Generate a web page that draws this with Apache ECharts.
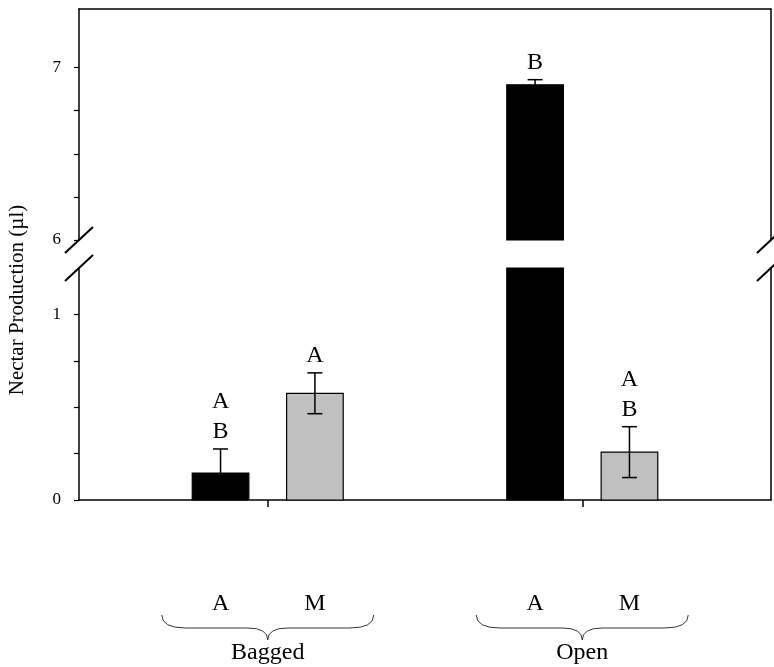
<!DOCTYPE html>
<html><head><meta charset="utf-8">
<script src="https://cdn.jsdelivr.net/npm/echarts@6/dist/echarts.min.js"></script>
<style>html,body{margin:0;padding:0;background:#fff}#c{width:774px;height:667px}</style>
</head><body><div id="c"></div>
<script>
const groups = ['Bagged', 'Open'];
const types = ['A', 'M'];
// bar order: Bagged-A, Bagged-M, Open-A, Open-M
const barGroup = [0, 0, 1, 1];
const barType = [0, 1, 0, 1];
const means = [0.145, 0.575, 6.90, 0.258];
const errs = [0.13, 0.11, 0.03, 0.137];
const letters = [['A', 'B'], ['A'], ['B'], ['A', 'B']];
const lowerRange = [0, 1.25];
const upperRange = [6, 7.34];
const lowerTicks = [0, 0.25, 0.5, 0.75, 1];
const lowerLabels = [0, 1];
const upperTicks = [6, 6.25, 6.5, 6.75, 7];
const upperLabels = [6, 7];
const groupTicks = [1, 2];
const yTitle = 'Nectar Production (\u00b5l)';

const typeColors = ['#000000', '#c0c0c0'];
const SERIF = '"Liberation Serif", "Times New Roman", serif';
const BW = 0.18, OFF = 0.15;

const data = means.map((m, i) => [barGroup[i] + 1 + (barType[i] === 0 ? -OFF : OFF), m, errs[i], barType[i], i]);

function makeRender(range) {
  return function (params, api) {
    const x = api.value(0), m = api.value(1), e = api.value(2), t = api.value(3), idx = api.value(4);
    const children = [];
    if (m <= range[0]) return { type: 'group', children };
    const top = Math.min(m, range[1]);
    const p0 = api.coord([x - BW / 2, range[0]]);
    const p1 = api.coord([x + BW / 2, top]);
    children.push({
      type: 'rect',
      shape: { x: p0[0], y: p1[1], width: p1[0] - p0[0], height: p0[1] - p1[1] },
      style: { fill: typeColors[t], stroke: '#000', lineWidth: 1.2 }
    });
    if (m + e <= range[1]) {
      const c = api.coord([x, m]);
      const hi = api.coord([x, m + e]);
      const lo = api.coord([x, Math.max(m - e, range[0])]);
      const hw = 7.5;
      children.push({ type: 'line', shape: { x1: c[0], y1: hi[1], x2: c[0], y2: lo[1] }, style: { stroke: '#000', lineWidth: 1.5 } });
      children.push({ type: 'line', shape: { x1: c[0] - hw, y1: hi[1], x2: c[0] + hw, y2: hi[1] }, style: { stroke: '#000', lineWidth: 1.5 } });
      children.push({ type: 'line', shape: { x1: c[0] - hw, y1: lo[1], x2: c[0] + hw, y2: lo[1] }, style: { stroke: '#000', lineWidth: 1.5 } });
      children.push({
        type: 'text',
        style: { text: letters[idx].join('\n'), x: c[0], y: hi[1] - 2, align: 'center', verticalAlign: 'bottom',
          font: '24px ' + SERIF, lineHeight: 30, fill: '#000' }
      });
    }
    return { type: 'group', children };
  };
}

const axisLine = { show: true, lineStyle: { color: '#000', width: 1.5 } };
const chart = echarts.init(document.getElementById('c'), null, { renderer: 'canvas' });
const gridL = 79, gridR = 3;
chart.setOption({
  animation: false,
  backgroundColor: '#fff',
  grid: [
    { left: gridL, right: gridR, top: 9, height: 231 },
    { left: gridL, right: gridR, top: 268, height: 232 }
  ],
  xAxis: [
    { type: 'value', gridIndex: 0, min: 0.4, max: 2.6, position: 'top', axisLine, axisTick: { show: false }, axisLabel: { show: false }, splitLine: { show: false } },
    { type: 'value', gridIndex: 1, min: 0.4, max: 2.6, position: 'bottom', axisLine,
      axisTick: { show: true, customValues: groupTicks, length: 7, lineStyle: { color: '#000', width: 1.5 } },
      axisLabel: { show: false }, splitLine: { show: false } }
  ],
  yAxis: [
    { type: 'value', gridIndex: 0, min: upperRange[0], max: upperRange[1], position: 'left', axisLine,
      axisTick: { show: true, customValues: upperTicks, length: 5, lineStyle: { color: '#000', width: 1.2 } },
      axisLabel: { customValues: upperLabels, fontFamily: SERIF, fontSize: 17, color: '#000', margin: 18 }, splitLine: { show: false } },
    { type: 'value', gridIndex: 1, min: lowerRange[0], max: lowerRange[1], position: 'left', axisLine,
      axisTick: { show: true, customValues: lowerTicks, length: 5, lineStyle: { color: '#000', width: 1.2 } },
      axisLabel: { customValues: lowerLabels, fontFamily: SERIF, fontSize: 17, color: '#000', margin: 18 }, splitLine: { show: false } },
    { type: 'value', gridIndex: 0, min: upperRange[0], max: upperRange[1], position: 'right', axisLine, axisTick: { show: false }, axisLabel: { show: false }, splitLine: { show: false } },
    { type: 'value', gridIndex: 1, min: lowerRange[0], max: lowerRange[1], position: 'right', axisLine, axisTick: { show: false }, axisLabel: { show: false }, splitLine: { show: false } }
  ],
  series: [
    { type: 'custom', xAxisIndex: 0, yAxisIndex: 0, data, renderItem: makeRender(upperRange), silent: true, z: 3 },
    { type: 'custom', xAxisIndex: 1, yAxisIndex: 1, data, renderItem: makeRender(lowerRange), silent: true, z: 3 }
  ]
});

// decorations: axis breaks, group labels, braces, y title
const g = [];
const pU = chart.convertToPixel({ gridIndex: 0 }, [0.4, upperRange[0]]);
const pL = chart.convertToPixel({ gridIndex: 1 }, [0.4, lowerRange[1]]);
const pUr = chart.convertToPixel({ gridIndex: 0 }, [2.6, upperRange[0]]);
const pLr = chart.convertToPixel({ gridIndex: 1 }, [2.6, lowerRange[1]]);
[pU, pL, pUr, pLr].forEach(p => {
  g.push({ type: 'line', shape: { x1: p[0] - 14, y1: p[1] + 13, x2: p[0] + 14, y2: p[1] - 13 }, style: { stroke: '#000', lineWidth: 2 }, z: 10 });
});
const braceStyle = { fill: 'none', stroke: '#333', lineWidth: 1 };
groups.forEach((name, gi) => {
  const cx = chart.convertToPixel({ gridIndex: 1 }, [gi + 1, 0])[0];
  types.forEach((tn, ti) => {
    const tx = chart.convertToPixel({ gridIndex: 1 }, [gi + 1 + (ti === 0 ? -OFF : OFF), 0])[0];
    g.push({ type: 'text', style: { text: tn, x: tx, y: 604, align: 'center', verticalAlign: 'middle', font: '24px ' + SERIF, fill: '#000' } });
  });
  const yt = 615, yh = 628, yp = 640, w = 106;
  g.push({ type: 'bezierCurve', shape: { x1: cx - w, y1: yt, x2: cx - w + 24, y2: yh, cpx1: cx - w, cpy1: yh }, style: braceStyle });
  g.push({ type: 'line', shape: { x1: cx - w + 24, y1: yh, x2: cx - 20, y2: yh }, style: braceStyle });
  g.push({ type: 'bezierCurve', shape: { x1: cx - 20, y1: yh, x2: cx, y2: yp, cpx1: cx, cpy1: yh }, style: braceStyle });
  g.push({ type: 'bezierCurve', shape: { x1: cx, y1: yp, x2: cx + 20, y2: yh, cpx1: cx, cpy1: yh }, style: braceStyle });
  g.push({ type: 'line', shape: { x1: cx + 20, y1: yh, x2: cx + w - 24, y2: yh }, style: braceStyle });
  g.push({ type: 'bezierCurve', shape: { x1: cx + w - 24, y1: yh, x2: cx + w, y2: yt, cpx1: cx + w, cpy1: yh }, style: braceStyle });
  g.push({ type: 'text', style: { text: name, x: cx, y: 653, align: 'center', verticalAlign: 'middle', font: '24px ' + SERIF, fill: '#000' } });
});
g.push({ type: 'text', x: 17, y: 300, rotation: Math.PI / 2, style: { text: yTitle, x: 0, y: 0, align: 'center', verticalAlign: 'middle', font: '21px ' + SERIF, fill: '#000' } });
chart.setOption({ graphic: g });
</script></body></html>
